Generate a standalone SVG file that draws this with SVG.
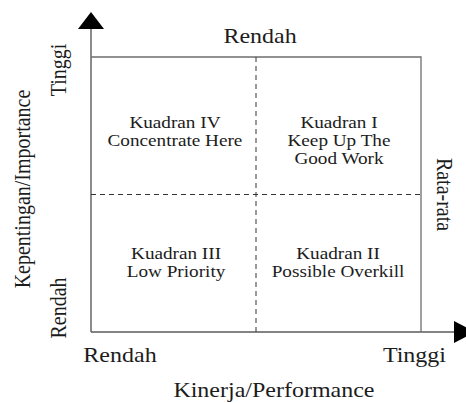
<svg xmlns="http://www.w3.org/2000/svg" width="466" height="403" viewBox="0 0 466 403">
  <style>
    .frame { stroke: #6e6e6e; stroke-width: 1.3; fill: none; }
    .axis { stroke: #5a5a5a; stroke-width: 1.4; fill: none; }
    .div { stroke: #333; stroke-width: 1; stroke-dasharray: 5 4; fill: none; }
    text { font-family: 'Liberation Serif', 'DejaVu Serif', serif; fill: #1c1c1c; text-anchor: middle; }
    .ax { font-size: 20px; }
    .q { font-size: 16px; }
  </style>
  <defs>
    <marker id="arrowV" viewBox="0 0 17 26" refX="0" refY="13" markerWidth="17" markerHeight="26" markerUnits="userSpaceOnUse" orient="auto">
      <path d="M0,0 L17,13 L0,26 Z" fill="#000"/>
    </marker>
    <marker id="arrowH" viewBox="0 0 21 22" refX="0" refY="11" markerWidth="21" markerHeight="22" markerUnits="userSpaceOnUse" orient="auto">
      <path d="M0,0 L21,11 L0,22 Z" fill="#000"/>
    </marker>
  </defs>
  <rect width="466" height="403" fill="#fff"/>

  <g id="connectors">
    <line id="y-axis" class="axis" x1="91" y1="332" x2="91" y2="29" marker-end="url(#arrowV)"/>
    <line id="x-axis" class="axis" x1="91" y1="332" x2="454" y2="332" marker-end="url(#arrowH)"/>
    <polyline id="frame" class="frame" points="91,57 421,57 421,332"/>
    <line id="divider-v" class="div" x1="256" y1="57" x2="256" y2="332"/>
    <line id="divider-h" class="div" x1="91" y1="194.5" x2="421" y2="194.5"/>
  </g>

  <g transform="scale(1.2,1)" font-family="Liberation Serif, serif">
    <g id="label-top">
      <text class="ax" x="216.7" y="43">Rendah</text>
    </g>
    <g id="label-x-low">
      <text class="ax" x="100" y="362">Rendah</text>
    </g>
    <g id="label-x-high">
      <text class="ax" x="345.4" y="362">Tinggi</text>
    </g>
    <g id="label-x-title">
      <text class="ax" x="228.3" y="397">Kinerja/Performance</text>
    </g>
    <g id="label-y-high">
      <text class="ax" transform="translate(55,70) rotate(-90)">Tinggi</text>
    </g>
    <g id="label-y-low">
      <text class="ax" transform="translate(55,308) rotate(-90)">Rendah</text>
    </g>
    <g id="label-y-title">
      <text class="ax" transform="translate(24.6,189) rotate(-90)">Kepentingan/Importance</text>
    </g>
    <g id="label-right">
      <text class="ax" transform="translate(364.2,194.5) rotate(90)">Rata-rata</text>
    </g>

    <g id="quadrant-4">
      <text class="q" x="145.8" y="128">Kuadran IV</text>
      <text class="q" x="145.8" y="146">Concentrate Here</text>
    </g>
    <g id="quadrant-1">
      <text class="q" x="282.5" y="128">Kuadran I</text>
      <text class="q" x="282.5" y="146">Keep Up The</text>
      <text class="q" x="282.5" y="164">Good Work</text>
    </g>
    <g id="quadrant-3">
      <text class="q" x="146.7" y="259">Kuadran III</text>
      <text class="q" x="146.7" y="277">Low Priority</text>
    </g>
    <g id="quadrant-2">
      <text class="q" x="281.7" y="259">Kuadran II</text>
      <text class="q" x="281.7" y="277">Possible Overkill</text>
    </g>
  </g>
</svg>
